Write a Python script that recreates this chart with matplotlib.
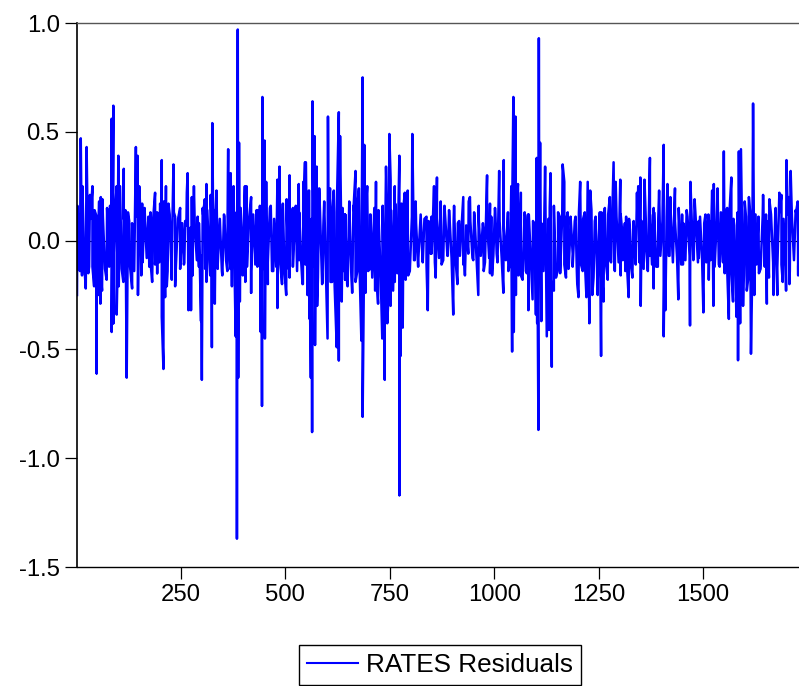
import numpy as np
import matplotlib
matplotlib.use('Agg')
import matplotlib.pyplot as plt

# upper peaks
obs_hi = [2, 10, 14, 24, 32, 38, 48, 54, 58, 62, 73, 80, 84, 88, 96, 100, 104, 113, 117, 126,
          142, 146, 150, 157, 163, 172, 177, 188, 193, 200, 204, 209, 214, 220, 232, 236, 248,
          260, 264, 266, 276, 281, 290, 302, 307, 311, 321, 325, 330, 335, 343, 354, 363, 369,
          376, 386, 389, 403, 407, 418, 431, 439, 445, 450, 454, 465, 481, 486, 494, 503, 510,
          518, 525, 532, 543, 549, 556,
          547, 557, 565, 570, 575, 581, 591, 602, 607, 616, 628, 631, 637, 643, 655, 663, 668,
          676, 685, 689, 696, 704, 717, 723, 733, 741, 749, 752, 762, 773, 778, 786, 793, 804,
          812, 824, 838, 850, 856, 863, 872, 881, 892, 904, 916, 926, 939, 942, 952, 963, 974,
          983, 990, 1002, 1012, 1023, 1033, 1041, 1046, 1051, 1057, 1064, 1074, 1081, 1095,
          1102, 1107, 1110, 1122, 1130,
          1135, 1144, 1157, 1164, 1168, 1176, 1183, 1195, 1206, 1217, 1224, 1230, 1241, 1251,
          1257, 1265, 1277, 1286, 1291, 1302, 1308, 1316, 1325, 1334, 1342, 1345, 1350, 1360,
          1373, 1382, 1395, 1406, 1415, 1422, 1433, 1442, 1450, 1461, 1470, 1480, 1490, 1506,
          1516, 1522, 1526, 1535, 1543, 1550, 1558, 1568, 1575, 1586, 1591, 1600, 1610, 1620,
          1626, 1633, 1644, 1651, 1659, 1674, 1683, 1688, 1700, 1706, 1710, 1722, 1727]
val_hi = [.16, .47, .25, .43, .21, .25, .11, .18, .20, .19, .15, .16, .56, .62, .25, .39, .25, .33, .14, .09,
          .43, .39, .25, .17, .15, .11, .13, .22, .09, .17, .37, .18, .25, .17, .35, .11, .15,
          .09, .22, .31, .20, .25, .11, .15, .19, .26, .21, .54, .14, .23, .10, .11, .42, .31,
          .25, .97, .45, .25, .25, .20, .14, .16, .66, .46, .27, .16, .28, .34, .17, .19, .30,
          .15, .16, .26, .27, .36, .23,
          .36, .23, .64, .48, .34, .24, .07, .57, .24, .23, .59, .48, .15, .12, .03, .16, .32,
          .24, .75, .44, .25, .12, .27, .14, .11, .34, .49, .28, .25, .39, .17, .22, .23, .49,
          .18, .12, .11, .11, .25, .29, .18, .16, .14, .16, .09, .20, .18, .20, .13, .16, .06,
          .30, .17, .15, .32, .37, .13, .25, .66, .57, .26, .22, .11, .12, .08,
          .38, .93, .45, .34, .10,
          .31, .09, .11, .35, .27, .13, .07, .11, .27, .13, .27, .23, .09, .02,
          .13, .15, .20, .36, .27, .28, .01, .11, .05, .09, .22, .25, .29, .28,
          .38, .15, .23, .44, .26, .20, .24, .15, .12, .14, .27, .19, .09, .12,
          .09, .23, .26, .24, .13, .41, .15, .29, .07, .41, .42, .18, .20, .63,
          .12, .11, .21, .12, .19, .15, .22, .21, .37, .20, .32, .14, .18]

# lower troughs
obs_lo = [1, 13, 22, 30, 42, 48, 52, 57, 61, 72, 84, 88, 96, 101, 112, 120, 133, 147, 155, 174,
          181, 193, 204, 208, 212, 216, 228, 236, 248, 257, 268, 274, 278, 293, 298, 300, 311,
          320, 324, 331, 338, 349, 361, 372, 381, 384, 387, 391, 398, 404, 418, 433, 441, 444,
          451, 458, 471, 481, 492, 502, 510, 518, 533, 542, 554, 558,
          541, 553, 561, 564, 571, 576, 589, 601, 612, 623, 628, 635, 643, 649, 660, 673, 682,
          685, 692, 703, 715, 722, 732, 738, 744, 752, 762, 773, 776, 781, 786, 794, 810, 818,
          829, 841, 850, 860, 874, 889, 902, 912, 926, 930, 950, 962, 975, 990, 995, 1006,
          1022, 1034, 1043, 1047, 1052, 1064, 1076, 1082, 1092, 1100, 1103, 1106, 1113, 1126, 1131,
          1133, 1138, 1143, 1153, 1172, 1179, 1188, 1199, 1202, 1212, 1221, 1228, 1235, 1248,
          1256, 1262, 1272, 1280, 1289, 1303, 1314, 1322, 1331, 1339, 1351, 1364, 1373, 1382,
          1392, 1406, 1410, 1420, 1441, 1452, 1469, 1477, 1490, 1501, 1514, 1525, 1540, 1552,
          1562, 1572, 1580, 1584, 1589, 1596, 1605, 1615, 1623, 1634, 1653, 1658, 1669, 1678,
          1691, 1699, 1707, 1728]
val_lo = [-.25, -.16, -.22, -.12, -.21, -.61, -.25, -.29, -.23, -.18, -.42, -.38, -.34, -.21, -.19, -.63, -.22, -.25, -.16, -.12,
          -.19, -.15, -.35, -.59, -.26, -.21, -.18, -.21, -.10, -.11, -.32, -.32, -.16, -.12, -.37, -.64, -.19,
          -.16, -.49, -.29, -.13, -.16, -.14, -.21, -.44, -1.37, -.63, -.28, -.11, -.19, -.24, -.12, -.42, -.76,
          -.45, -.20, -.14, -.31, -.20, -.25, -.17, -.12, -.09, -.20, -.25, -.36,
          -.20, -.25, -.63, -.88, -.48, -.30, -.19, -.45, -.19, -.49, -.55, -.28, -.18, -.21, -.24, -.13, -.46,
          -.81, -.24, -.13, -.23, -.29, -.45, -.64, -.38, -.30, -.19, -1.17, -.53, -.40, -.11, -.16, -.09, -.12,
          -.10, -.32, -.06, -.17, -.11, -.07, -.34, -.20, -.11, -.16, -.09, -.25, -.14, -.15, -.16, -.06,
          -.24, -.14, -.51, -.42, -.25, -.16, -.14, -.32, -.27, -.34, -.38, -.87, -.37, -.44, -.41,
          -.41, -.58, -.23, -.13, -.17, -.10, -.06, -.20, -.26, -.14, -.26, -.38, -.25, -.25,
          -.53, -.28, -.18, -.10, -.14, -.16, -.14, -.26, -.17, -.11, -.30, -.04, -.07, -.22,
          -.12, -.44, -.32, -.07, -.27, -.11, -.39, -.09, -.08, -.33, -.18, -.30, -.12, -.15,
          -.36, -.28, -.35, -.55, -.38, -.30, -.23, -.52, -.25, -.15, -.29, -.17, -.25, -.25,
          -.19, -.23, -.20, -.16]

# solid band around zero, estimated every 5 observations (one row per 100)
core_vals = [
    .12, -.14, .15, -.10, .13, -.15, .10, -.12, .14, -.09, .12, -.16, .11, -.13, .15, -.12, .13, -.11, .16, -.14,
    .12, -.13, .10, -.11, .13, -.12, .08, -.14, .11, -.09, .12, -.10, .14, -.08, .10, -.12, .09, -.11, .13, -.10,
    .11, -.12, .09, -.14, .12, -.08, .13, -.11, .10, -.13, .08, -.10, .07, -.09, .06, -.08, .07, -.09, .08, -.07,
    .12, -.13, .14, -.10, .09, -.12, .13, -.11, .10, -.14, .12, -.09, .11, -.13, .14, -.10, .13, -.12, .15, -.16,
    .13, -.12, .10, -.14, .12, -.11, .14, -.09, .11, -.13, .12, -.10, .15, -.14, .10, -.12, .13, -.11, .12, -.15,
    .14, -.13, .09, -.12, .11, -.14, .13, -.10, .12, -.11, .15, -.13, .10, -.12, .16, -.17, .13, -.20, .18, -.22,
    .17, -.19, .15, -.21, .13, -.18, .16, -.14, .12, -.20, .18, -.16, .14, -.19, .17, -.15, .13, -.18, .16, -.14,
    .12, -.17, .15, -.16, .11, -.14, .16, -.19, .18, -.21, .14, -.23, .17, -.15, .13, -.20, .16, -.18, .12, -.14,
    .11, -.09, .08, -.10, .09, -.07, .10, -.11, .09, -.06, .08, -.10, .10, -.08, .07, -.09, .10, -.07, .11, -.08,
    .09, -.10, .08, -.07, .10, -.09, .07, -.06, .09, -.08, .11, -.09, .10, -.07, .08, -.10, .09, -.08, .11, -.07,
    .12, -.10, .09, -.08, .07, -.09, .12, -.10, .11, -.13, .14, -.16, .15, -.18, .13, -.15, .12, -.10, .09, -.08,
    .10, -.12, .08, -.14, .12, -.16, .15, -.19, .16, -.17, .13, -.15, .12, -.11, .10, -.13, .11, -.12, .09, -.14,
    .13, -.11, .10, -.13, .12, -.16, .14, -.17, .11, -.18, .13, -.14, .10, -.11, .12, -.09, .13, -.12, .11, -.10,
    .12, -.09, .08, -.11, .10, -.12, .07, -.09, .11, -.10, .09, -.13, .10, -.14, .12, -.11, .13, -.12, .10, -.07,
    .09, -.08, .11, -.07, .12, -.10, .09, -.08, .10, -.11, .08, -.09, .11, -.07, .10, -.08, .09, -.10, .11, -.09,
    .08, -.10, .12, -.09, .10, -.12, .09, -.11, .13, -.10, .12, -.13, .11, -.14, .10, -.12, .13, -.15, .12, -.16,
    .11, -.18, .13, -.15, .12, -.11, .10, -.13, .11, -.12, .09, -.14, .12, -.10, .11, -.13, .13, -.11, .10, -.12,
    .12, -.14, .11, -.09, .13, -.12, .10, -.13, .14, -.11, .12, -.10, .09,
]
obs_core = list(range(3, 3 + 5 * len(core_vals), 5))

x_ticks = [250, 500, 750, 1000, 1250, 1500]
y_ticks = [-1.5, -1.0, -0.5, 0.0, 0.5, 1.0]

plt.rcParams['font.family'] = ['Liberation Sans', 'DejaVu Sans']

# merge everything into one series
obs = np.array(obs_hi + obs_lo + obs_core)
vals = np.array(val_hi + val_lo + core_vals)
order = np.argsort(obs, kind='stable')

W, H = 799, 686
fig = plt.figure(figsize=(W / 100, H / 100), dpi=100)
ax = fig.add_axes([77 / W, 1 - 567 / H, 722 / W, 544 / H])

ax.axhline(0, color='black', lw=0.8, zorder=1)
ax.plot(obs[order], vals[order], color='#0000ff', lw=1.8, label='RATES Residuals', zorder=2)

ax.set_xlim(1, 1730)
ax.set_ylim(-1.5, 1.0)
ax.set_xticks(x_ticks)
ax.set_yticks(y_ticks)
ax.set_yticklabels(['%.1f' % v for v in y_ticks])
ax.tick_params(axis='both', length=8.5, width=0.9, labelsize=17.2, direction='out', pad=4)

ax.spines['left'].set_linewidth(1.2)
ax.spines['bottom'].set_linewidth(1.0)
ax.spines['top'].set_linewidth(1.0)
ax.spines['top'].set_color('#555555')
ax.spines['right'].set_visible(False)

leg = fig.legend(loc='center', bbox_to_anchor=(440 / W, 1 - 665 / H), fontsize=18.8, frameon=True,
                 fancybox=False, edgecolor='black', framealpha=1, handlelength=1.95,
                 handletextpad=0.3, borderpad=0.3, borderaxespad=0)
leg.get_frame().set_linewidth(1.0)
leg.get_lines()[0].set_linewidth(1.5)

fig.savefig('out.png', dpi=100)
